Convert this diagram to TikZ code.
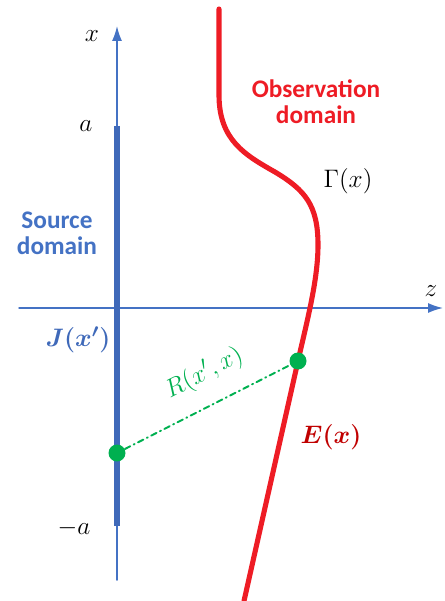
\documentclass[tikz,border=0pt]{standalone}
\usepackage{amsmath}
\usepackage{fontspec}
\setsansfont{Carlito}
\usetikzlibrary{arrows.meta,calc}
\definecolor{axisblue}{HTML}{4472C4}
\definecolor{barblue}{HTML}{3F69B9}
\definecolor{obsred}{HTML}{EE1C25}
\definecolor{fieldred}{HTML}{C00000}
\definecolor{pathgreen}{HTML}{00B050}
\tikzset{
  labelsans/.style={font=\sffamily\bfseries\fontsize{14.4}{17}\selectfont,align=center},
  mathlabel/.style={font=\fontsize{15}{18}\selectfont},
  greendot/.style={circle,fill=pathgreen,inner sep=0pt,minimum size=.34cm}
}

\begin{document}
\begin{tikzpicture}[x=0.02cm,y=-0.02cm,line cap=round,line join=round]
  \path[use as bounding box] (0,0) rectangle (444,601);

  % Axes: x runs up the page, z runs to the right.
  \coordinate (xbot) at (117,580);
  \coordinate (xtop) at (117,26);
  \coordinate (zleft) at (19,308);
  \coordinate (zright) at (443,308);
  \draw[axisblue,line width=.85pt,-{Latex[length=3mm,width=2mm]}] (xbot) -- (xtop);
  \draw[axisblue,line width=.85pt,-{Latex[length=3mm,width=2mm]}] (zleft) -- (zright);
  \node[mathlabel] (xlab) at (92,36) {$x$};
  \node[mathlabel] (zlab) at (431,291) {$z$};

  % Source strip between -a and a.
  \coordinate (srctop) at (117,126);
  \coordinate (srcbot) at (117,526);
  \draw[barblue,line width=3.8pt,line cap=butt] (srctop) -- (srcbot);
  \node[mathlabel] (alab) at (86,126) {$a$};
  \node[mathlabel] (malab) at (74,528) {$-a$};
  \node[labelsans,text=axisblue] (srclab) at (57,233) {Source\\[-2pt]domain};
  \node[mathlabel,text=barblue] (jlab) at (78,340) {$\boldsymbol{J(x')}$};

  % Observation boundary Gamma(x).
  \draw[obsred,line width=2.9pt] (219,9) -- (219,95)
    .. controls (219,140) and (245,155) .. (275,172)
    .. controls (305,190) and (318,205) .. (318,245)
    .. controls (318,280) and (307,321) .. (298,361)
    -- (244,601);
  \node[labelsans,text=obsred] (obslab) at (316,102) {Observation\\[-2pt]domain};
  \node[mathlabel] (gamlab) at (348,181) {$\Gamma(x)$};
  \node[mathlabel,text=fieldred] (elab) at (331,437) {$\boldsymbol{E(x)}$};

  % Source and observation points joined by R.
  \node[greendot] (src) at (117,453) {};
  \node[greendot] (obs) at (298,361) {};
  \draw[pathgreen,line width=1.1pt,dash pattern=on 3.4pt off 2.2pt on .6pt off 2.2pt] (src) -- (obs);
  \node[mathlabel,text=pathgreen,rotate=27] (rlab) at (204,373) {$R(x',x)$};
\end{tikzpicture}
\end{document}
